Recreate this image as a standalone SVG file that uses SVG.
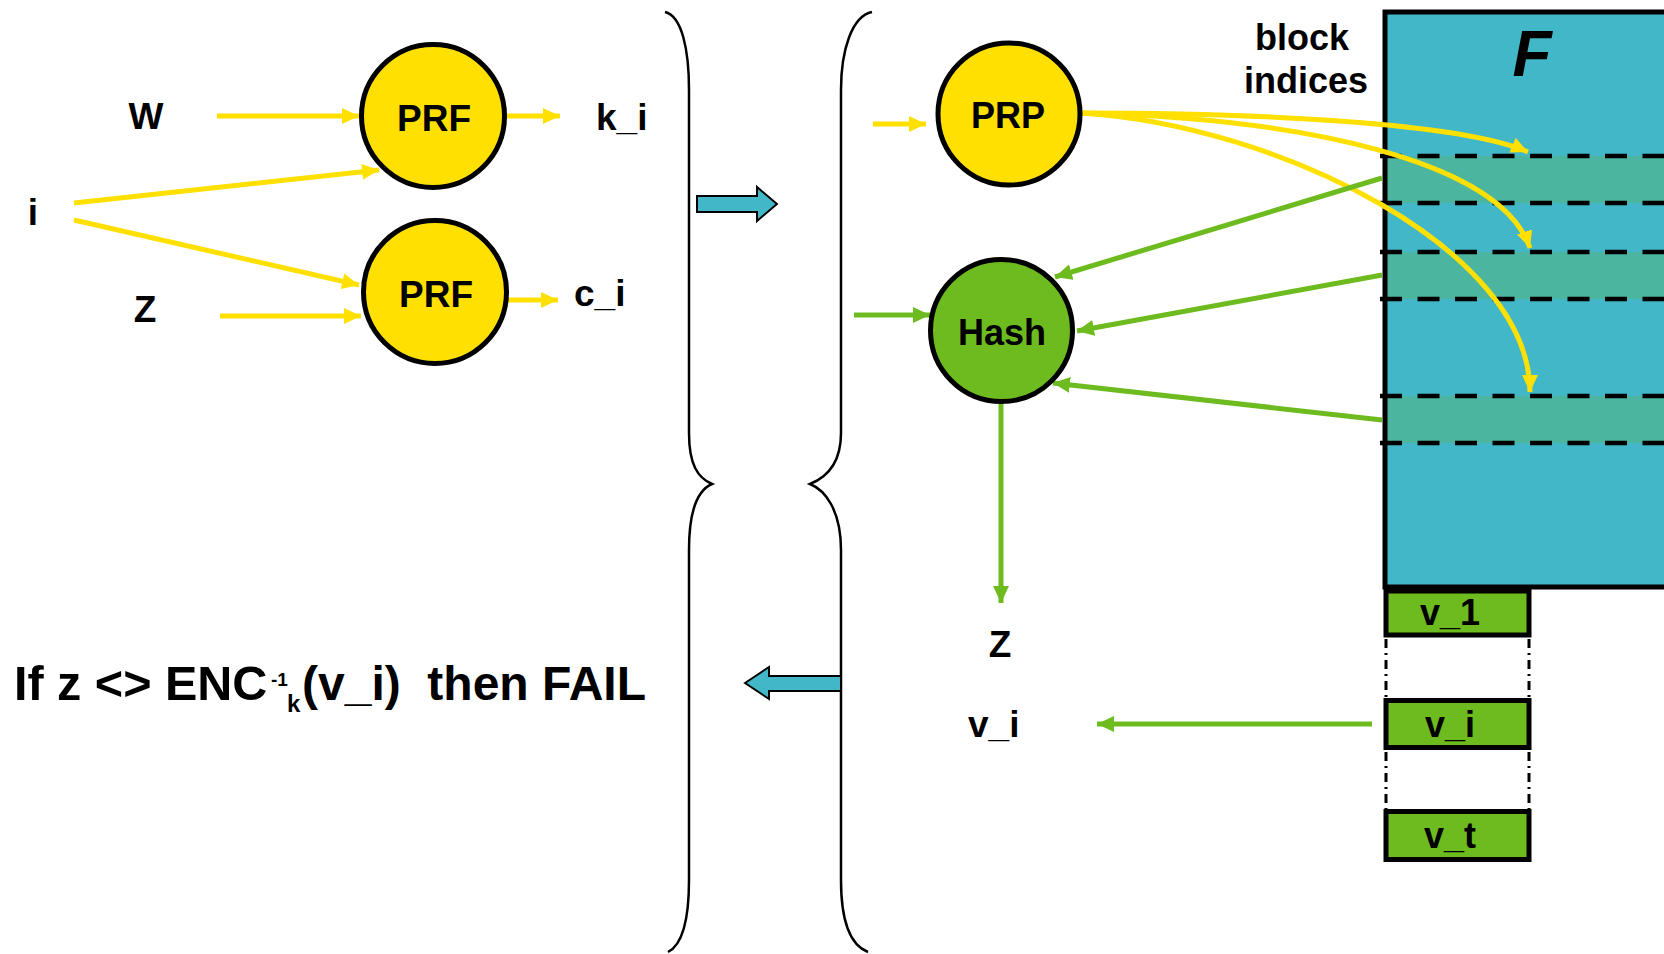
<svg xmlns="http://www.w3.org/2000/svg" width="1664" height="954" viewBox="0 0 1664 954">
<style>
.t{font-family:"Liberation Sans",Arial,sans-serif;font-weight:bold;fill:#000}
.y{stroke:#FFE000;stroke-width:5;fill:none}
.g{stroke:#6DBB1F;stroke-width:5;fill:none}
.br{stroke:#000;stroke-width:2.5;fill:none}
.dash{stroke:#000;stroke-width:4.5;stroke-dasharray:22 15.5}
.vd{stroke:#000;stroke-width:3;stroke-dasharray:9 5 2 5}
.cy{fill:#FFE000;stroke:#000;stroke-width:5}
.cg{fill:#6DBB1F;stroke:#000;stroke-width:5}
.box{fill:#6DBB1F;stroke:#000;stroke-width:5}
.band{fill:#4CB59F}
.bl{fill:#42B7C7;stroke:#000;stroke-width:2}
</style>
<defs>
<marker id="ay" markerUnits="userSpaceOnUse" markerWidth="18" markerHeight="16" refX="17" refY="8" orient="auto"><path d="M0,0 L17,8 L0,16 z" fill="#FFE000"/></marker>
<marker id="ag" markerUnits="userSpaceOnUse" markerWidth="18" markerHeight="16" refX="17" refY="8" orient="auto"><path d="M0,0 L17,8 L0,16 z" fill="#6DBB1F"/></marker>
</defs>
<rect width="1664" height="954" fill="#fff"/>

<g id="F">
<rect x="1385" y="12" width="320" height="575" fill="#42B7C7"/>
<rect class="band" x="1385" y="156" width="300" height="47"/>
<rect class="band" x="1385" y="252" width="300" height="47"/>
<rect class="band" x="1385" y="396" width="300" height="47"/>
<line class="dash" x1="1380" y1="156" x2="1664" y2="156"/>
<line class="dash" x1="1380" y1="203" x2="1664" y2="203"/>
<line class="dash" x1="1380" y1="252" x2="1664" y2="252"/>
<line class="dash" x1="1380" y1="299" x2="1664" y2="299"/>
<line class="dash" x1="1380" y1="396" x2="1664" y2="396"/>
<line class="dash" x1="1380" y1="443" x2="1664" y2="443"/>
<rect x="1385" y="12" width="320" height="575" fill="none" stroke="#000" stroke-width="5"/>
<text class="t" x="1532" y="76" font-size="64" font-style="italic" text-anchor="middle">F</text>
</g>

<g id="blockindices">
<text class="t" x="1302" y="50" font-size="36" text-anchor="middle">block</text>
<text class="t" x="1306" y="93" font-size="36" text-anchor="middle">indices</text>
</g>

<g id="v1"><rect class="box" x="1386" y="591" width="143" height="44"/><text class="t" x="1450" y="625" font-size="36" text-anchor="middle">v_1</text></g>
<g id="vi"><rect class="box" x="1386" y="700.5" width="143" height="47"/><text class="t" x="1450" y="737" font-size="36" text-anchor="middle">v_i</text></g>
<g id="vt"><rect class="box" x="1386" y="811.5" width="143" height="48"/><text class="t" x="1450" y="848" font-size="36" text-anchor="middle">v_t</text></g>
<g id="vdots">
<line class="vd" x1="1386" y1="639" x2="1386" y2="698"/>
<line class="vd" x1="1529" y1="639" x2="1529" y2="698"/>
<line class="vd" x1="1386" y1="752" x2="1386" y2="809"/>
<line class="vd" x1="1529" y1="752" x2="1529" y2="809"/>
</g>

<g id="braces">
<path class="br" d="M665 12 C682 16 689 50 689 90 L689 433 C689 465 698 478 712 484 C698 490 689 510 689 550 L689 880 C689 920 682 945 668 952"/>
<path class="br" d="M872 12 C852 16 841 50 841 90 L841 433 C841 465 825 478 810 484 C825 490 841 510 841 550 L841 880 C841 920 850 945 868 952"/>
</g>
<g id="arrowRight"><polygon class="bl" points="697,196 757,196 757,187 777,204 757,221 757,212 697,212"/></g>
<g id="arrowLeft"><polygon class="bl" points="745,683 769,667 769,676 841,676 841,691 769,691 769,699"/></g>

<g id="connectors">
<line class="y" x1="217" y1="116" x2="359" y2="116" marker-end="url(#ay)"/>
<line class="y" x1="74" y1="203" x2="379" y2="170" marker-end="url(#ay)"/>
<line class="y" x1="74" y1="220" x2="359" y2="285" marker-end="url(#ay)"/>
<line class="y" x1="220" y1="316" x2="361" y2="316" marker-end="url(#ay)"/>
<line class="y" x1="505" y1="116" x2="560" y2="116" marker-end="url(#ay)"/>
<line class="y" x1="507" y1="300" x2="558" y2="300" marker-end="url(#ay)"/>
<line class="y" x1="873" y1="124" x2="926" y2="124" marker-end="url(#ay)"/>
<path class="y" d="M1080 113 C1250 113 1460 122 1528 152" marker-end="url(#ay)"/>
<path class="y" d="M1080 113 C1300 118 1500 160 1530 248" marker-end="url(#ay)"/>
<path class="y" d="M1080 113 C1280 125 1530 250 1530 392" marker-end="url(#ay)"/>
<line class="g" x1="854" y1="315" x2="930" y2="315" marker-end="url(#ag)"/>
<line class="g" x1="1382" y1="178" x2="1055" y2="277" marker-end="url(#ag)"/>
<line class="g" x1="1382" y1="275" x2="1077" y2="331" marker-end="url(#ag)"/>
<line class="g" x1="1382" y1="420" x2="1053" y2="383" marker-end="url(#ag)"/>
<line class="g" x1="1001" y1="404" x2="1001" y2="603" marker-end="url(#ag)"/>
<line class="g" x1="1372" y1="724" x2="1097" y2="724" marker-end="url(#ag)"/>
</g>

<g id="W"><text class="t" x="146" y="129" font-size="37" text-anchor="middle">W</text></g>
<g id="i"><text class="t" x="33" y="225" font-size="37" text-anchor="middle">i</text></g>
<g id="Z"><text class="t" x="145" y="322" font-size="37" text-anchor="middle">Z</text></g>
<g id="PRF1"><circle class="cy" cx="433" cy="116" r="71.5"/><text class="t" x="434" y="131" font-size="37" text-anchor="middle">PRF</text></g>
<g id="PRF2"><circle class="cy" cx="435" cy="292" r="71.5"/><text class="t" x="436" y="307" font-size="37" text-anchor="middle">PRF</text></g>
<g id="ki"><text class="t" x="596" y="130" font-size="37">k_i</text></g>
<g id="ci"><text class="t" x="574" y="306" font-size="37">c_i</text></g>
<g id="PRP"><circle class="cy" cx="1009" cy="114" r="71"/><text class="t" x="1008" y="128" font-size="36" text-anchor="middle">PRP</text></g>
<g id="Hash"><circle class="cg" cx="1001.5" cy="330.5" r="71"/><text class="t" x="1002" y="345" font-size="36" text-anchor="middle">Hash</text></g>
<g id="zout"><text class="t" x="1000" y="657" font-size="37" text-anchor="middle">Z</text></g>
<g id="viout"><text class="t" x="968" y="737" font-size="37">v_i</text></g>

<g id="fail">
<text class="t" x="14" y="700" font-size="48.5">If z &lt;&gt; ENC</text>
<text class="t" x="271" y="686" font-size="19">-1</text>
<text class="t" x="287" y="712" font-size="24">k</text>
<text class="t" x="302" y="700" font-size="48" xml:space="preserve">(v_i)  then FAIL</text>
</g>
</svg>
